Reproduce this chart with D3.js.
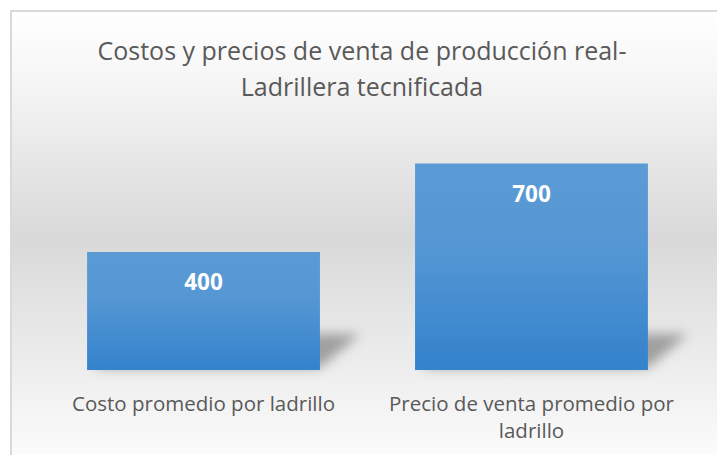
<!DOCTYPE html>
<meta charset="utf-8">
<title>Costos y precios</title>
<style>
body { margin: 0; background: #fff; }
text { font-family: "Open Sans", sans-serif; }
</style>
<body>
<script src="https://d3js.org/d3.v7.min.js"></script>
<script>

const categories = [["Costo promedio por ladrillo"], ["Precio de venta promedio por", "ladrillo"]];
const values = [400, 700];
const titleLines = ["Costos y precios de venta de producción real-", "Ladrillera tecnificada"];

const width = 717, height = 455;

const svg = d3.select("body").append("svg")
    .attr("width", width)
    .attr("height", height);

const defs = svg.append("defs");

// chart area background: white -> gray -> near white
const bg = defs.append("linearGradient").attr("id", "bg").attr("x1", 0).attr("y1", 0).attr("x2", 0).attr("y2", 1);
bg.append("stop").attr("offset", "0%").attr("stop-color", "#ffffff");
bg.append("stop").attr("offset", "12%").attr("stop-color", "#f8f8f8");
bg.append("stop").attr("offset", "50%").attr("stop-color", "#d9d9d9");
bg.append("stop").attr("offset", "100%").attr("stop-color", "#fdfdfd");

const barGrad = defs.append("linearGradient").attr("id", "bar").attr("x1", 0).attr("y1", 0).attr("x2", 0).attr("y2", 1);
barGrad.append("stop").attr("offset", "0%").attr("stop-color", "#5b9bd5");
barGrad.append("stop").attr("offset", "40%").attr("stop-color", "#5597d4");
barGrad.append("stop").attr("offset", "100%").attr("stop-color", "#3382cc");

defs.append("filter").attr("id", "blur").attr("x", "-30%").attr("y", "-50%").attr("width", "160%").attr("height", "200%")
  .append("feGaussianBlur").attr("stdDeviation", 6);

// frame
svg.append("rect")
    .attr("x", 11).attr("y", 11)
    .attr("width", width).attr("height", height)
    .attr("fill", "url(#bg)")
    .attr("stroke", "#d9d9d9")
    .attr("stroke-width", 2);

// title
svg.append("g").selectAll("text")
  .data(titleLines)
  .join("text")
    .attr("x", 362)
    .attr("y", (d, i) => 60 + i * 36)
    .attr("text-anchor", "middle")
    .attr("fill", "#595959")
    .attr("font-size", 25)
    .text(d => d);

const x = d3.scaleBand()
    .domain(d3.range(values.length))
    .range([11, 724])
    .paddingInner(0.29)
    .paddingOuter(0.232);

const y = d3.scaleLinear()
    .domain([0, 800])
    .range([370, 134]);

// perspective shadows
svg.append("g").attr("filter", "url(#blur)").selectAll("path")
  .data(values)
  .join("path")
    .attr("fill", "#000")
    .attr("fill-opacity", 0.32)
    .attr("d", (d, i) => {
      const x0 = x(i) + 6, x1 = x(i) + x.bandwidth(), b = y(0) - 2, h = 34;
      return `M${x0},${b}L${x1},${b}L${x1 + 40},${b - h}L${x0 + 40},${b - h}Z`;
    });

svg.append("g").selectAll("rect")
  .data(values)
  .join("rect")
    .attr("x", (d, i) => x(i))
    .attr("y", d => y(d))
    .attr("width", x.bandwidth())
    .attr("height", d => y(0) - y(d))
    .attr("fill", "url(#bar)");

// data labels
svg.append("g").selectAll("text")
  .data(values)
  .join("text")
    .attr("x", (d, i) => x(i) + x.bandwidth() / 2)
    .attr("y", d => y(d) + 38)
    .attr("text-anchor", "middle")
    .attr("fill", "#fff")
    .attr("font-weight", "bold")
    .attr("font-size", 22.5)
    .text(d => d);

// category labels
const cat = svg.append("g").selectAll("text")
  .data(categories)
  .join("text")
    .attr("x", (d, i) => x(i) + x.bandwidth() / 2)
    .attr("y", 411)
    .attr("text-anchor", "middle")
    .attr("fill", "#595959")
    .attr("font-size", 20.5);

cat.selectAll("tspan")
  .data(d => d)
  .join("tspan")
    .attr("x", function () { return this.parentNode.getAttribute("x"); })
    .attr("dy", (d, i) => i ? 27 : 0)
    .text(d => d);

</script>
</body>
